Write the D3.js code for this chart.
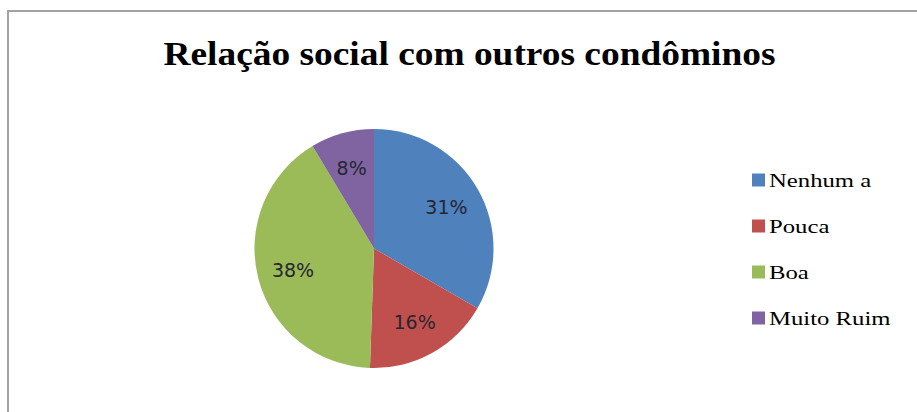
<!DOCTYPE html>
<html>
<head>
<meta charset="utf-8">
<script src="https://d3js.org/d3.v7.min.js"></script>
<style>
	html, body { margin: 0; padding: 0; background: #ffffff; }
	svg { display: block; }
</style>
</head>
<body>
<div class="chart-container"></div>
<script>
// chart data
var categories = ['Nenhum a', 'Pouca', 'Boa', 'Muito Ruim'];
var values = [31, 16, 38, 8];
var colors = ['#4F81BD', '#C0504D', '#9BBB59', '#8064A2'];
var title = 'Relação social com outros condôminos';

var width = 917, height = 412;

var svg = d3.select('.chart-container')
	.append('svg')
	.attr('width', width)
	.attr('height', height);

// grey chart frame, runs off the right and bottom edge
svg.append('rect')
	.attr('x', 8)
	.attr('y', 11)
	.attr('width', width)
	.attr('height', height)
	.attr('fill', '#ffffff')
	.attr('stroke', '#a3a3a3')
	.attr('stroke-width', 2);

// title
svg.append('text')
	.attr('x', 469.5)
	.attr('y', 65)
	.attr('text-anchor', 'middle')
	.attr('font-family', "'Liberation Serif', 'Times New Roman', serif")
	.attr('font-weight', 'bold')
	.attr('font-size', 34)
	.attr('textLength', 612)
	.attr('lengthAdjust', 'spacingAndGlyphs')
	.attr('fill', '#000000')
	.text(title);

// pie
var cx = 374, cy = 248.5, radius = 119.5;
var pie = d3.pie().sort(null).value((d) => d);
var arcs = pie(values);
var arc = d3.arc().innerRadius(0).outerRadius(radius);
var labelArc = d3.arc().innerRadius(radius * 0.7).outerRadius(radius * 0.7);

var g = svg.append('g').attr('transform', `translate(${cx},${cy})`);

g.selectAll('path.slice')
	.data(arcs)
	.enter()
	.append('path')
	.attr('class', 'slice')
	.attr('d', arc)
	.attr('fill', (d, i) => colors[i]);

g.selectAll('text.pct')
	.data(arcs)
	.enter()
	.append('text')
	.attr('class', 'pct')
	.attr('transform', (d) => `translate(${labelArc.centroid(d)})`)
	.attr('text-anchor', 'middle')
	.attr('dy', '0.38em')
	.attr('font-family', "'DejaVu Sans', sans-serif")
	.attr('font-size', 19)
	.attr('fill', '#262633')
	.text((d) => d.data + '%');

// legend
var legendY = d3.scalePoint()
	.domain(categories)
	.range([180, 318]);

var legend = svg.selectAll('g.legend')
	.data(categories)
	.enter()
	.append('g')
	.attr('class', 'legend')
	.attr('transform', (d) => `translate(752,${legendY(d)})`);

legend.append('rect')
	.attr('x', 0)
	.attr('y', -6.5)
	.attr('width', 13)
	.attr('height', 13)
	.attr('fill', (d, i) => colors[i]);

legend.append('text')
	.attr('x', 17)
	.attr('y', 7)
	.attr('font-family', "'Liberation Serif', 'Times New Roman', serif")
	.attr('font-size', 19)
	.attr('fill', '#000000')
	.text((d) => d)
	.each(function () {
		// the legend lettering in the picture is drawn wide
		var w = this.getComputedTextLength();
		d3.select(this)
			.attr('textLength', w * 1.3)
			.attr('lengthAdjust', 'spacingAndGlyphs');
	});
</script>
</body>
</html>
